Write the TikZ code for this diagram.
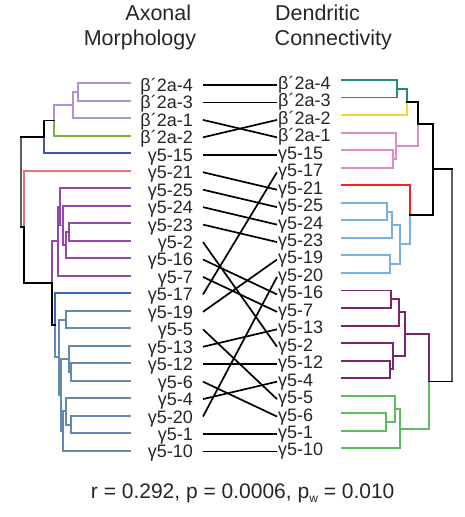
\documentclass[tikz,border=0pt]{standalone}
\usepackage{fontspec}
\setmainfont{Liberation Sans}
\definecolor{lav}{HTML}{AC92D6}
\definecolor{lgreen}{HTML}{7AB23E}
\definecolor{lblue}{HTML}{3658AE}
\definecolor{salmon}{HTML}{E67274}
\definecolor{lpurple}{HTML}{9447AB}
\definecolor{dblue}{HTML}{3467BD}
\definecolor{steel}{HTML}{6389AC}
\definecolor{teal2}{HTML}{24887A}
\definecolor{yel}{HTML}{FFD02A}
\definecolor{pink2}{HTML}{E08AC4}
\definecolor{red2}{HTML}{FF1F1F}
\definecolor{skyb}{HTML}{78B2E4}
\definecolor{dpurple}{HTML}{7B2469}
\definecolor{rgreen}{HTML}{58BE60}
\definecolor{rootgrey}{HTML}{5E5E5E}
\definecolor{txt}{HTML}{262626}
\newcommand\dbranch[5]{\draw[dendro,#1] (#2,#3) -- (#2,#5) -- (#4,#5);}
\begin{document}
\begin{tikzpicture}[x=1pt,y=-1pt,
  dendro/.style={line width=1.9pt,line cap=rect},
  conn/.style={line width=1.7pt,black},
  lab/.style={inner sep=0pt,text=txt,font=\fontsize{18}{18}\selectfont},
  ttl/.style={inner sep=0pt,text=txt,font=\fontsize{21.5}{22}\selectfont},
  stat/.style={inner sep=0pt,text=txt,font=\fontsize{21}{22}\selectfont}]
\useasboundingbox (0,0) rectangle (464,517);
% titles
\node[ttl,anchor=base] (tAx) at (158.3,20) {Axonal};
\node[ttl,anchor=base] (tMo) at (140,45) {Morphology};
\node[ttl,anchor=base] (tDe) at (317.5,20) {Dendritic};
\node[ttl,anchor=base] (tCo) at (333.3,45) {Connectivity};
% left labels
\foreach \t [count=\i from 0] in {β´2a-4,β´2a-3,β´2a-1,β´2a-2,γ5-15,γ5-21,γ5-25,γ5-24,γ5-23,γ5-2,γ5-16,γ5-7,γ5-17,γ5-19,γ5-5,γ5-13,γ5-12,γ5-6,γ5-4,γ5-20,γ5-1,γ5-10}{
  \pgfmathsetmacro\yy{85+17.45*\i}
  \node[lab,anchor=base east] (la\i) at (193,\yy+6.45) {\t};
  \coordinate (L\i) at (203,\yy);
}
% right labels
\foreach \t [count=\i from 0] in {β´2a-4,β´2a-3,β´2a-2,β´2a-1,γ5-15,γ5-17,γ5-21,γ5-25,γ5-24,γ5-23,γ5-19,γ5-20,γ5-16,γ5-7,γ5-13,γ5-2,γ5-12,γ5-4,γ5-5,γ5-6,γ5-1,γ5-10}{
  \pgfmathsetmacro\yy{85+17.45*\i}
  \node[lab,anchor=base west] (ra\i) at (278,\yy+4.45) {\t};
  \coordinate (R\i) at (277,\yy);
}
% connectors
\foreach \a/\b in {0/0,1/1,2/3,3/2,4/4,5/6,6/7,7/8,8/9,9/15,10/12,11/13,12/5,13/10,14/18,15/14,16/16,17/19,18/17,19/11,20/20,21/21}
  \draw[conn] (L\a) -- (R\b);
% ---------- left dendrogram ----------
\dbranch{lav}{77.7}{92.05}{130}{83.3}
\dbranch{lav}{77.7}{92.05}{130}{100.8}
\dbranch{lav}{73.3}{105.2}{77.7}{92.05}
\dbranch{lav}{73.3}{105.2}{130}{118.3}
\dbranch{lav}{54.3}{120.5}{73.3}{105.2}
\dbranch{lgreen}{54.3}{120.5}{130}{135.8}
\dbranch{black}{44.3}{136.9}{54.3}{120.5}
\dbranch{lblue}{44.3}{136.9}{130}{153.3}
% purple
\dbranch{lpurple}{69.3}{232.05}{130}{223.3}
\dbranch{lpurple}{69.3}{232.05}{130}{240.8}
\dbranch{lpurple}{66}{245.175}{69.3}{232.05}
\dbranch{lpurple}{66}{245.175}{130}{258.3}
\dbranch{lpurple}{62.7}{225.49}{130}{205.8}
\dbranch{lpurple}{62.7}{225.49}{66}{245.175}
\dbranch{lpurple}{60}{206.9}{130}{188.3}
\dbranch{lpurple}{60}{206.9}{62.7}{225.49}
\dbranch{lpurple}{57.7}{241.35}{60}{206.9}
\dbranch{lpurple}{57.7}{241.35}{130}{275.8}
% steel
\dbranch{steel}{65.7}{319.55}{130}{310.8}
\dbranch{steel}{65.7}{319.55}{130}{328.3}
\dbranch{steel}{71}{372.05}{130}{363.3}
\dbranch{steel}{71}{372.05}{130}{380.8}
\dbranch{steel}{69.3}{358.925}{130}{345.8}
\dbranch{steel}{69.3}{358.925}{71}{372.05}
\dbranch{steel}{71}{424.55}{130}{415.8}
\dbranch{steel}{71}{424.55}{130}{433.3}
\dbranch{steel}{65.7}{411.425}{130}{398.3}
\dbranch{steel}{65.7}{411.425}{71}{424.55}
\dbranch{steel}{63}{431.11}{65.7}{411.425}
\dbranch{steel}{63}{431.11}{130}{450.8}
\dbranch{steel}{61}{395.02}{69.3}{358.925}
\dbranch{steel}{61}{395.02}{63}{431.11}
\dbranch{steel}{59}{357.29}{65.7}{319.55}
\dbranch{steel}{59}{357.29}{61}{395.02}
\dbranch{dblue}{55}{325.3}{130}{293.3}
\dbranch{steel}{55}{325.3}{59}{357.29}
\dbranch{lpurple}{51.7}{283.3}{57.7}{241.35}
\dbranch{black}{51.7}{283.3}{55}{325.3}
\dbranch{salmon}{24}{227.05}{130}{170.8}
\dbranch{black}{24}{227.05}{51.7}{283.3}
\draw[dendro,rootgrey] (20.7,136.9) -- (20.7,227.05);
\draw[dendro,black] (20.7,136.9) -- (44.3,136.9);
\draw[dendro,black] (20.7,227.05) -- (24,227.05);
% ---------- right dendrogram ----------
\dbranch{teal2}{396.7}{88.77}{341.7}{80}
\dbranch{teal2}{396.7}{88.77}{341.7}{97.54}
\dbranch{teal2}{407.3}{101.925}{396.7}{88.77}
\dbranch{yel}{407.3}{101.925}{341.7}{115.08}
\dbranch{pink2}{393.3}{158.93}{341.7}{150.16}
\dbranch{pink2}{393.3}{158.93}{341.7}{167.7}
\dbranch{pink2}{396}{145.775}{341.7}{132.62}
\dbranch{pink2}{396}{145.775}{393.3}{158.93}
\dbranch{black}{418.3}{123.85}{407.3}{101.925}
\dbranch{pink2}{418.3}{123.85}{396}{145.775}
\dbranch{skyb}{386.7}{211.55}{341.7}{202.78}
\dbranch{skyb}{386.7}{211.55}{341.7}{220.32}
\dbranch{skyb}{392.3}{224.705}{386.7}{211.55}
\dbranch{skyb}{392.3}{224.705}{341.7}{237.86}
\dbranch{skyb}{390}{264.17}{341.7}{255.4}
\dbranch{skyb}{390}{264.17}{341.7}{272.94}
\dbranch{skyb}{400}{244.44}{392.3}{224.705}
\dbranch{skyb}{400}{244.44}{390}{264.17}
\dbranch{red2}{410}{214.84}{341.7}{185.24}
\dbranch{skyb}{410}{214.84}{400}{244.44}
\dbranch{black}{433.3}{169.345}{418.3}{123.85}
\dbranch{black}{433.3}{169.345}{410}{214.84}
\dbranch{dpurple}{391}{299.25}{341.7}{290.48}
\dbranch{dpurple}{391}{299.25}{341.7}{308.02}
\dbranch{dpurple}{399.3}{312.405}{391}{299.25}
\dbranch{dpurple}{399.3}{312.405}{341.7}{325.56}
\dbranch{dpurple}{390}{369.41}{341.7}{360.64}
\dbranch{dpurple}{390}{369.41}{341.7}{378.18}
\dbranch{dpurple}{392.7}{356.255}{341.7}{343.1}
\dbranch{dpurple}{392.7}{356.255}{390}{369.41}
\dbranch{dpurple}{405.3}{334.33}{399.3}{312.405}
\dbranch{dpurple}{405.3}{334.33}{392.7}{356.255}
\dbranch{rgreen}{385.7}{422.03}{341.7}{413.26}
\dbranch{rgreen}{385.7}{422.03}{341.7}{430.8}
\dbranch{rgreen}{395}{408.875}{341.7}{395.72}
\dbranch{rgreen}{395}{408.875}{385.7}{422.03}
\dbranch{rgreen}{400}{428.61}{395}{408.875}
\dbranch{rgreen}{400}{428.61}{341.7}{448.34}
\dbranch{dpurple}{429.3}{381.47}{405.3}{334.33}
\dbranch{rgreen}{429.3}{381.47}{400}{428.61}
\draw[dendro,rootgrey] (451.7,169.345) -- (451.7,381.47);
\draw[dendro,black] (451.7,169.345) -- (433.3,169.345);
\draw[dendro,black] (451.7,381.47) -- (429.3,381.47);
% statistics
\node[stat,anchor=base] (stats) at (242.7,498.3) {r = 0.292, p = 0.0006, p\raisebox{-4pt}{\fontsize{12}{12}\selectfont w} = 0.010};
\end{tikzpicture}
\end{document}
